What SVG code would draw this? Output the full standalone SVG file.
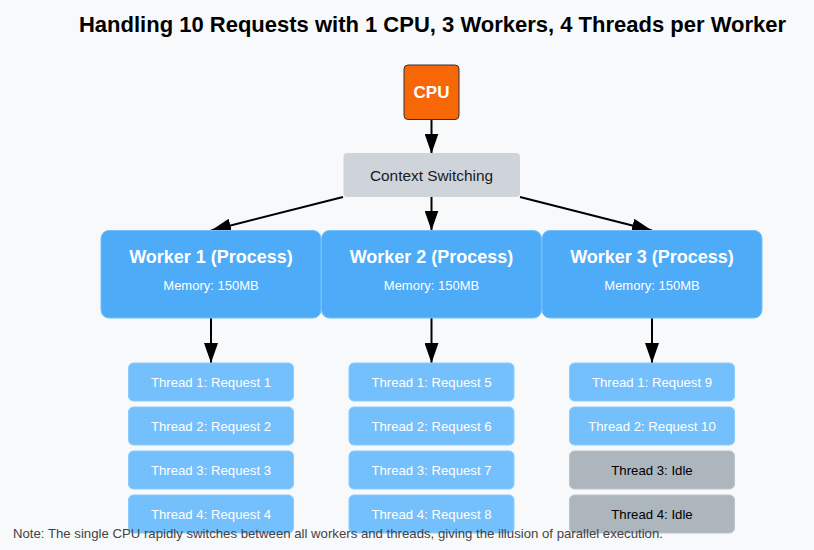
<svg xmlns="http://www.w3.org/2000/svg" width="814" height="550" viewBox="0 0 814 550">
<defs>
<marker id="arr" viewBox="0 0 20 14" refX="20" refY="7" markerWidth="20" markerHeight="14" markerUnits="userSpaceOnUse" orient="auto">
<path d="M0,0 L20,7 L0,14 Z" fill="#000"/>
</marker>
<style>
text{font-family:"Liberation Sans",Arial,sans-serif;text-anchor:middle}
.title{font-size:22px;font-weight:bold;fill:#000}
.worker rect{fill:#4dabf7;stroke:#74c0fc;stroke-width:1}
.wt{font-size:18px;font-weight:bold;fill:#fff}
.wm{font-size:13px;fill:#fff}
.th rect{fill:#74c0fc;stroke:#8ccbfd;stroke-width:1}
.th text{font-size:13.2px;fill:#fff;dominant-baseline:central}
.idle rect{fill:#adb5bd;stroke:#bcc3ca;stroke-width:1}
.idle text{font-size:13.2px;fill:#000;dominant-baseline:central}
.conn line{stroke:#000;stroke-width:2;marker-end:url(#arr)}
</style>
</defs>
<rect width="814" height="550" fill="#f8f9fa"/>
<text class="title" x="432.5" y="32">Handling 10 Requests with 1 CPU, 3 Workers, 4 Threads per Worker</text>
<g class="conn">
<line x1="431.5" y1="120" x2="431.5" y2="153.5"/>
<line x1="343" y1="197" x2="211" y2="230.5"/>
<line x1="431.5" y1="197" x2="431.5" y2="230.5"/>
<line x1="520" y1="197" x2="652" y2="230.5"/>
<line x1="211" y1="318" x2="211" y2="363"/>
<line x1="431.5" y1="318" x2="431.5" y2="363"/>
<line x1="652" y1="318" x2="652" y2="363"/>
</g>
<g id="cpu">
<rect x="404" y="65" width="55" height="54.5" rx="4" fill="#f76707" stroke="#333" stroke-width="1"/>
<text x="431.5" y="92" style="font-size:17px;font-weight:bold;fill:#fff;dominant-baseline:central">CPU</text>
</g>
<g id="context">
<rect x="343.5" y="153" width="176.5" height="44" rx="4" fill="#ced4da"/>
<text x="431.5" y="175" style="font-size:15.4px;fill:#1a1a1a;dominant-baseline:central">Context Switching</text>
</g>
<g id="worker1" class="worker">
<rect x="101" y="230.5" width="220" height="87.5" rx="8"/>
<text class="wt" x="211" y="263">Worker 1 (Process)</text>
<text class="wm" x="211" y="290">Memory: 150MB</text>
</g>
<g id="worker2" class="worker">
<rect x="321.5" y="230.5" width="220" height="87.5" rx="8"/>
<text class="wt" x="431.5" y="263">Worker 2 (Process)</text>
<text class="wm" x="431.5" y="290">Memory: 150MB</text>
</g>
<g id="worker3" class="worker">
<rect x="542" y="230.5" width="220" height="87.5" rx="8"/>
<text class="wt" x="652" y="263">Worker 3 (Process)</text>
<text class="wm" x="652" y="290">Memory: 150MB</text>
</g>
<g id="w1t1" class="th"><rect x="128.5" y="363" width="165" height="38" rx="5"/><text x="211" y="382">Thread 1: Request 1</text></g>
<g id="w1t2" class="th"><rect x="128.5" y="407" width="165" height="38" rx="5"/><text x="211" y="426">Thread 2: Request 2</text></g>
<g id="w1t3" class="th"><rect x="128.5" y="451" width="165" height="38" rx="5"/><text x="211" y="470">Thread 3: Request 3</text></g>
<g id="w1t4" class="th"><rect x="128.5" y="495" width="165" height="38" rx="5"/><text x="211" y="514">Thread 4: Request 4</text></g>
<g id="w2t1" class="th"><rect x="349" y="363" width="165" height="38" rx="5"/><text x="431.5" y="382">Thread 1: Request 5</text></g>
<g id="w2t2" class="th"><rect x="349" y="407" width="165" height="38" rx="5"/><text x="431.5" y="426">Thread 2: Request 6</text></g>
<g id="w2t3" class="th"><rect x="349" y="451" width="165" height="38" rx="5"/><text x="431.5" y="470">Thread 3: Request 7</text></g>
<g id="w2t4" class="th"><rect x="349" y="495" width="165" height="38" rx="5"/><text x="431.5" y="514">Thread 4: Request 8</text></g>
<g id="w3t1" class="th"><rect x="569.5" y="363" width="165" height="38" rx="5"/><text x="652" y="382">Thread 1: Request 9</text></g>
<g id="w3t2" class="th"><rect x="569.5" y="407" width="165" height="38" rx="5"/><text x="652" y="426">Thread 2: Request 10</text></g>
<g id="w3t3" class="idle"><rect x="569.5" y="451" width="165" height="38" rx="5"/><text x="652" y="470">Thread 3: Idle</text></g>
<g id="w3t4" class="idle"><rect x="569.5" y="495" width="165" height="38" rx="5"/><text x="652" y="514">Thread 4: Idle</text></g>
<text x="13" y="538" style="text-anchor:start;font-size:13.2px;fill:#444">Note: The single CPU rapidly switches between all workers and threads, giving the illusion of parallel execution.</text>
</svg>
